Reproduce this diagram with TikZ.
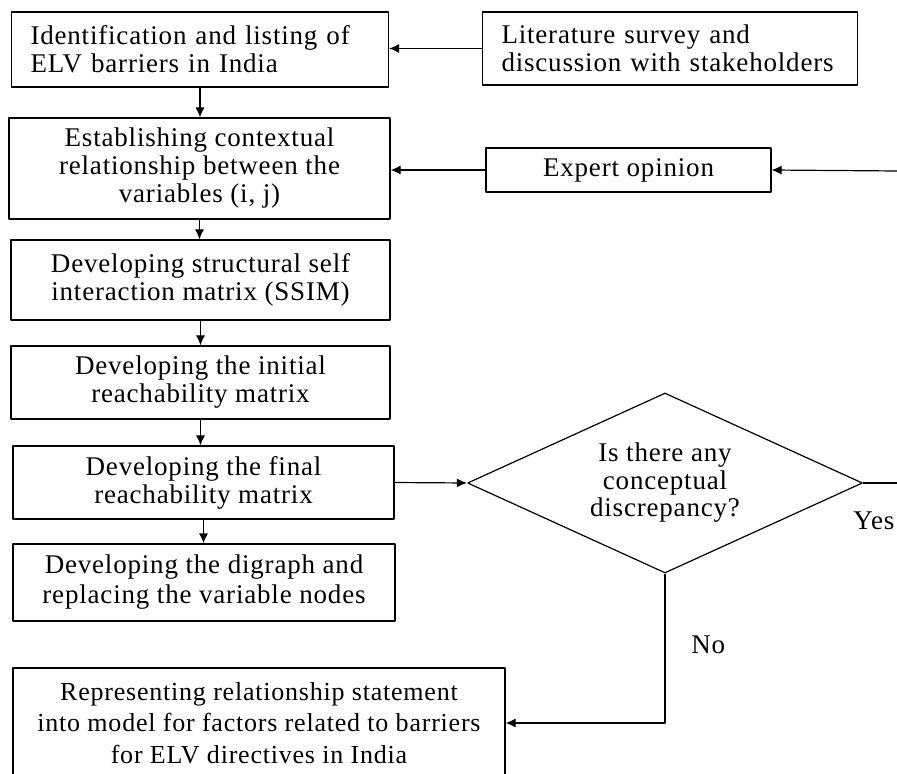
\documentclass[tikz,border=0pt]{standalone}
\usepackage{fontspec}
\setmainfont{Liberation Serif}
\newfontfamily\flowfont[LetterSpace=3]{Liberation Serif}
\usepackage{tikz}
\usetikzlibrary{arrows.meta}
\usetikzlibrary{shapes.geometric}
\usetikzlibrary{positioning}

\begin{document}
\begin{tikzpicture}[>={Latex[length=5pt,width=4.5pt]},line join=bevel,x=0.5pt,y=-0.5pt,
  stepbox/.style={draw,rectangle,line width=0.6pt,inner sep=2pt,align=center,
    font=\flowfont\fontsize{13.5}{14}\selectfont},
  leftbox/.style={stepbox,align=left,inner xsep=9.5pt},
  decide/.style={draw,diamond,line width=0.6pt,inner sep=0pt,aspect=2.2,align=center,
    font=\flowfont\fontsize{13.5}{13.75}\selectfont},
  flow/.style={->,line width=0.6pt},
  lbl/.style={font=\flowfont\fontsize{13.5}{14}\selectfont}]
\useasboundingbox (0,0) rectangle (897,774);
%%
\node (ident) at (200,49.5) [leftbox,text width=169.5pt,minimum height=37.5pt] {Identification and listing of\\ELV barriers in India};
\node (lit) at (670,48.5) [leftbox,text width=168.5pt,minimum height=36.5pt] {Literature survey and\\discussion with stakeholders};
\node (contx) at (199.5,168.5) [stepbox,minimum width=190.5pt,minimum height=50.5pt] {Establishing contextual\\relationship between the\\variables (i, j)};
\node (expert) at (628.5,170) [stepbox,minimum width=142.5pt,minimum height=22pt] {Expert opinion};
\node (ssim) at (200.5,280) [stepbox,minimum width=189.5pt,minimum height=40pt] {Developing structural self\\interaction matrix (SSIM)};
\node (irm) at (200.5,382.5) [stepbox,minimum width=189.5pt,minimum height=36.5pt] {Developing the initial\\reachability matrix};
\node (frm) at (203.5,482.5) [stepbox,minimum width=190.5pt,minimum height=36.5pt] {Developing the final\\reachability matrix};
\node (digraph) at (204,582.5) [stepbox,minimum width=191pt,minimum height=38.5pt,
  font=\flowfont\fontsize{13.5}{15}\selectfont] {Developing the digraph and\\replacing the variable nodes};
\node (model) at (259,723) [stepbox,minimum width=246pt,minimum height=55pt,
  font=\flowfont\fontsize{13}{15.75}\selectfont] {Representing relationship statement\\into model for factors related to barriers\\for ELV directives in India};
\node (disc) at (665,483) [decide,minimum width=197.5pt,minimum height=90pt] {Is there any\\conceptual\\discrepancy?};
\coordinate (expin) at (897,171);
\coordinate (yesout) at (897,483);
\node (yes) at (853,521) [lbl,anchor=west,inner sep=0pt] {Yes};
\node (no) at (691,645) [lbl,anchor=west,inner sep=0pt] {No};
%%
\draw [flow] (lit.west) -- (lit.west -| ident.east);
\draw [flow] (ident.south) -- (ident.south |- contx.north);
\draw [flow] (expert.west) -- (expert.west -| contx.east);
\draw [flow] (expin) -- (expert.east);
\draw [flow] (contx.south) -- (contx.south |- ssim.north);
\draw [flow] (ssim.south) -- (ssim.south |- irm.north);
\draw [flow] (irm.south) -- (irm.south |- frm.north);
\draw [flow] (frm.south) -- (frm.south |- digraph.north);
\draw [flow] (frm.east) -- (disc.west);
\draw [line width=0.6pt] (disc.east) -- (yesout);
\draw [flow] (disc.south) |- (model.east);
%
\end{tikzpicture}
\end{document}
